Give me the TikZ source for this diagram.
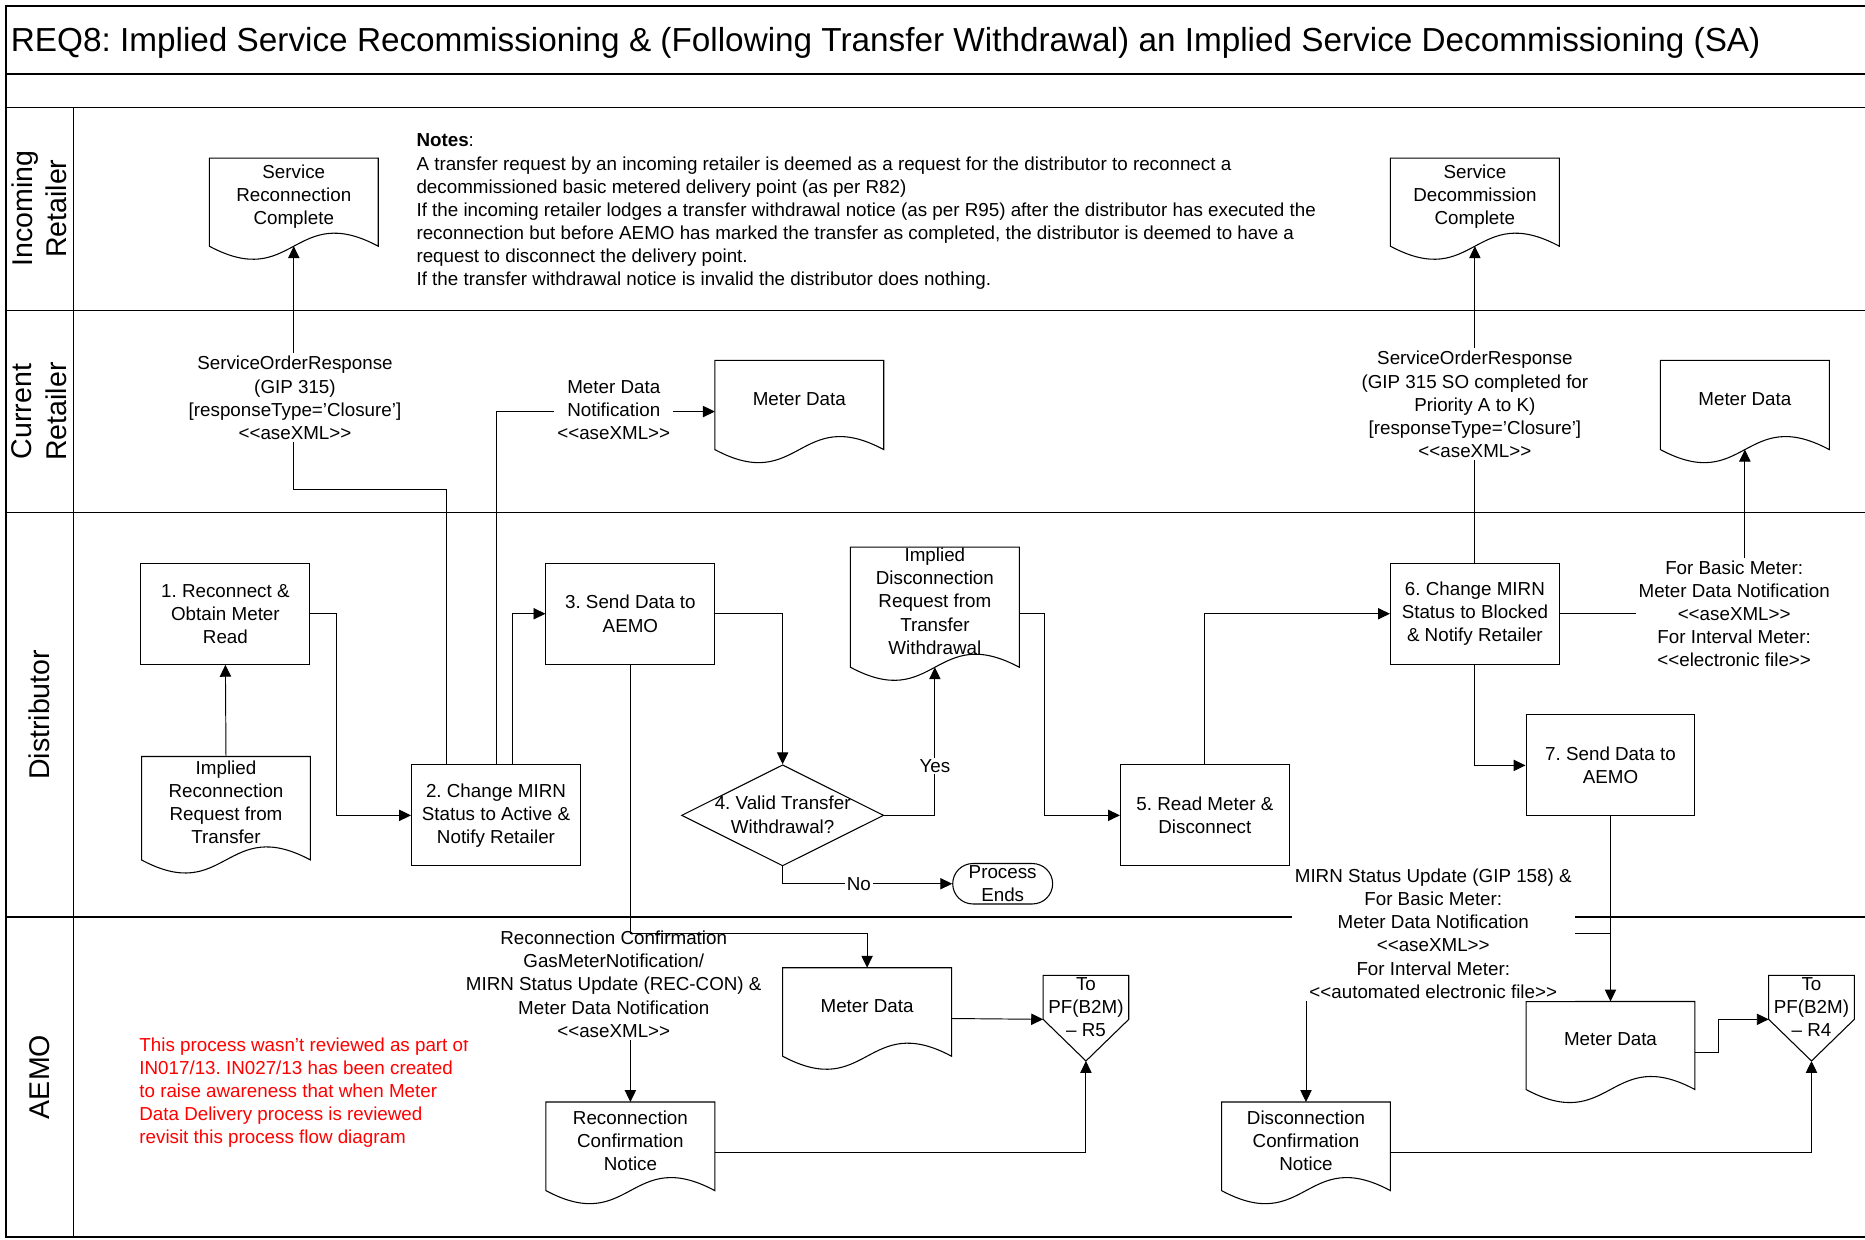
\documentclass[tikz,border=0pt]{standalone}
\usepackage{fontspec}
\setmainfont{Liberation Sans}
\usetikzlibrary{arrows.meta,calc,shapes.geometric}
\frenchspacing
\newcommand\dlt{<\kern0pt<}
\newcommand\dgt{>\kern0pt>}
% document shape: name, cx, top, text-box height, text
\newcommand\docnode[5]{%
  \node[docbox, minimum height=#4] (#1) at (#2,#3+#4/2) {#5};
  \draw[shp] (#2-71,#3) -- (#2+71,#3) -- (#2+71,#3+#4+10)
    .. controls (#2,#3+#4+10-38) and (#2,#3+#4+10+38) .. (#2-71,#3+#4+10) -- cycle;
  \coordinate (#1-t) at (#2,#3);
  \coordinate (#1-b) at (#2,#3+#4+10);
  \coordinate (#1-r) at (#2+71,#3+#4/2+10.5);
  \coordinate (#1-l) at (#2-71,#3+#4/2+10.5);
}
% off-page reference: name, cx, top, text
\newcommand\offnode[4]{%
  \draw[shp] (#2-36,#3) -- (#2+36,#3) -- (#2+36,#3+37) -- (#2,#3+72) -- (#2-36,#3+37) -- cycle;
  \node (#1) at (#2,#3+27) {#4};
  \coordinate (#1-l) at (#2-36,#3+37);
  \coordinate (#1-b) at (#2,#3+72);
}
\begin{document}
\begin{tikzpicture}[x=1pt,y=-1pt,
  every node/.style={font=\fontsize{15.8}{19.4}\selectfont, inner sep=0pt, align=center},
  shp/.style={draw, line width=0.9pt},
  box/.style={shp, minimum width=142pt, minimum height=85pt},
  docbox/.style={minimum width=142pt},
  arr/.style={line width=0.8pt, -{Triangle[length=10pt,width=9.5pt]}},
  lbl/.style={fill=white, inner sep=2.5pt},
  lane/.style={line width=1.3pt},
  lanelbl/.style={rotate=90, font=\fontsize{24}{29}\selectfont},
]
\useasboundingbox (0,0) rectangle (1568,1042);
\fill[white] (0,0) rectangle (1568,1042);

% frame and lanes
\draw[lane] (1568,5) -- (5,5) -- (5,1040) -- (1568,1040);
\draw[lane] (5,62) -- (1568,62);
\draw[lane] (5,90.5) -- (1568,90.5);
\draw[lane] (5,261) -- (1568,261);
\draw[lane] (5,431) -- (1568,431);
\draw[lane] (5,771) -- (1568,771);
\draw[lane] (61.7,90.5) -- (61.7,1040);

\node[anchor=base west, font=\fontsize{28}{33}\selectfont] (title) at (9,43.5)
  {REQ8: Implied Service Recommissioning \& (Following Transfer Withdrawal) an Implied Service Decommissioning (SA)};

\node[lanelbl] (lane1) at (33,175.5) {Incoming\\Retailer};
\node[lanelbl] (lane2) at (33,346) {Current\\Retailer};
\node[lanelbl] (lane3) at (33,601) {Distributor};
\node[lanelbl] (lane4) at (33,905.5) {AEMO};

\node[anchor=north west, align=left] (notes) at (350,112.5) {\textbf{Notes}:\\
A transfer request by an incoming retailer is deemed as a request for the distributor to reconnect a\\
decommissioned basic metered delivery point (as per R82)\\
If the incoming retailer lodges a transfer withdrawal notice (as per R95) after the distributor has executed the\\
reconnection but before AEMO has marked the transfer as completed, the distributor is deemed to have a\\
request to disconnect the delivery point.\\
If the transfer withdrawal notice is invalid the distributor does nothing.};

\node[anchor=north west, align=left, text=red] (review) at (117,872) {This process wasn't reviewed as part of\\
IN017/13. IN027/13 has been created\\
to raise awareness that when Meter\\
Data Delivery process is reviewed\\
revisit this process flow diagram};

% documents
\docnode{SRC}{247}{133}{64}{Service\\Reconnection\\Complete}
\docnode{SDC}{1240}{133}{64}{Service\\Decommission\\Complete}
\docnode{MDc}{672}{303}{65}{Meter Data}
\docnode{MDr}{1467}{303}{65}{Meter Data}
\docnode{IRRT}{190}{636}{77}{Implied\\Reconnection\\Request from\\Transfer}
\docnode{IDRTW}{786}{460}{91}{Implied\\Disconnection\\Request from\\Transfer\\Withdrawal}
\docnode{MDal}{729}{813.6}{64.4}{Meter Data}
\docnode{RCN}{530}{926.5}{64.5}{Reconnection\\Confirmation\\Notice}
\docnode{MDar}{1354}{842}{64}{Meter Data}
\docnode{DCN}{1098}{926.5}{64.5}{Disconnection\\Confirmation\\Notice}

% processes
\node[box] (B1) at (189.5,516) {1. Reconnect \&\\Obtain Meter\\Read};
\node[box] (B2) at (417,685.5) {2. Change MIRN\\Status to Active \&\\Notify Retailer};
\node[box] (B3) at (530,516) {3. Send Data to\\AEMO};
\node[box] (B5) at (1013,685.5) {5. Read Meter \&\\Disconnect};
\node[box] (B6) at (1240,516) {6. Change MIRN\\Status to Blocked\\\& Notify Retailer};
\node[box] (B7) at (1354,643.5) {7. Send Data to\\AEMO};
\node[shp, diamond, minimum width=170pt, minimum height=85pt] (D4) at (658,685.5) {};
\node (D4t) at (658,685) {4. Valid Transfer\\Withdrawal?};
\node[shp, rounded corners=17pt, minimum width=84pt, minimum height=34pt] (PE) at (843,743) {Process\\Ends};

% off-page references
\offnode{R5}{913}{820}{To\\PF(B2M)\\– R5}
\offnode{R4}{1523}{820}{To\\PF(B2M)\\– R4}

% connectors
\draw[arr] (IRRT-t) -- (B1.south);
\draw[arr] (B1.east) -- ++(22,0) |- (B2.west);
\draw[arr] ($(B2.north west)+(30,0)$) -- ++(0,-231) -| (SRC-b);
\draw[arr] (B2.north) |- (MDc-l);
\draw[arr] ($(B2.north west)+(85,0)$) |- (B3.west);
\draw[arr] (B3.east) -| (D4.north);
\draw[arr] (D4.east) -| (IDRTW-b);
\draw[arr] (D4.south) |- (PE.west);
\draw[arr] (IDRTW-r) -- ++(21,0) |- (B5.west);
\draw[arr] (B5.north) |- (B6.west);
\draw[arr] (B6.north) -- (SDC-b);
\draw[arr] (B6.east) -| (MDr-b);
\draw[arr] (B6.south) |- (B7.west);
\draw[arr] (B7.south) -- (MDar-t);
\draw[arr] (B7.south) |- ($(DCN-t)+(0,-141.5)$) -- (DCN-t);
\draw[arr] (B3.south) -- (RCN-t);
\draw[arr] (MDal-r) -- (R5-l);
\draw[arr] (RCN-r) -| (R5-b);
\draw[arr] (MDar-r) -- ++(20,0) |- (R4-l);
\draw[arr] (DCN-r) -| (R4-b);

% connector labels
\node[lbl] (l1) at (248,334.5) {ServiceOrderResponse\\(GIP 315)\\{[responseType='Closure']}\\\dlt aseXML\dgt};
\node[lbl] (l2) at (516,345) {Meter Data\\Notification\\\dlt aseXML\dgt};
\node[lbl] (l3) at (1240,340) {ServiceOrderResponse\\(GIP 315 SO completed for\\Priority A to K)\\{[responseType='Closure']}\\\dlt aseXML\dgt};
\node[lbl] (l4) at (1458,516) {For Basic Meter:\\Meter Data Notification\\\dlt aseXML\dgt\\For Interval Meter:\\\dlt electronic file\dgt};
\node[lbl, inner sep=1.5pt] (l5) at (786,644) {Yes};
\node[lbl, inner sep=1.5pt] (l6) at (722,743) {No};
\node[lbl] (l7) at (516,827.5) {Reconnection Confirmation\\GasMeterNotification/\\MIRN Status Update (REC-CON) \&\\Meter Data Notification\\\dlt aseXML\dgt};
\node[lbl] (l8) at (1205,785) {MIRN Status Update (GIP 158) \&\\For Basic Meter:\\Meter Data Notification\\\dlt aseXML\dgt\\For Interval Meter:\\\dlt automated electronic file\dgt};

\draw[arr] (B3.south) |- ($(MDal-t)+(0,-29)$) -- (MDal-t);
\end{tikzpicture}
\end{document}
